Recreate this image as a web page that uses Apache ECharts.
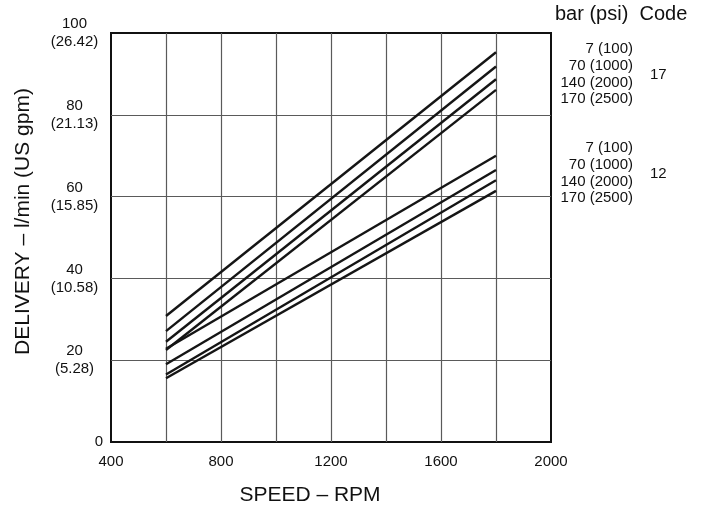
<!DOCTYPE html>
<html>
<head>
<meta charset="utf-8">
<script src="https://cdn.jsdelivr.net/npm/echarts@6/dist/echarts.min.js"></script>
<style>html,body{margin:0;padding:0;background:#fff}#c{width:711px;height:511px}</style>
</head>
<body>
<div id="c"></div>
<script>
// Speed (RPM) at the two ends of each line
var speeds = [600, 1800];
// Code 17 delivery (l/min)
var c17_7 = [30.8, 95.3];
var c17_70 = [27.1, 91.8];
var c17_140 = [24.5, 88.7];
var c17_170 = [22.5, 86.1];
// Code 12 delivery (l/min)
var c12_7 = [22.8, 70.0];
var c12_70 = [19.0, 66.5];
var c12_140 = [16.5, 64.0];
var c12_170 = [15.6, 61.4];
// tick labels
var yTicks = [0, 20, 40, 60, 80, 100];
var gpmTicks = ['', '5.28', '10.58', '15.85', '21.13', '26.42'];
var pressureLabels = ['7 (100)', '70 (1000)', '140 (2000)', '170 (2500)'];
var codes = ['17', '12'];

var FONT = 'Liberation Sans, Arial, Helvetica, sans-serif';
function pts(v) { return speeds.map(function (s, i) { return [s, v[i]]; }); }
var allSeries = [c17_7, c17_70, c17_140, c17_170, c12_7, c12_70, c12_140, c12_170];

var graphics = [];
graphics.push({ type: 'text', left: 555, top: 4, style: { text: 'bar (psi)  Code', font: '20px ' + FONT, fill: '#111' } });
var groupTops = [49, 148];
groupTops.forEach(function (t, g) {
  pressureLabels.forEach(function (lab, i) {
    graphics.push({ type: 'text', x: 633, y: t + i * 16.7, style: { text: lab, font: '15px ' + FONT, fill: '#111', align: 'right', verticalAlign: 'middle' } });
  });
  graphics.push({ type: 'text', x: 650, y: t + 25.5, style: { text: codes[g], font: '15px ' + FONT, fill: '#111', align: 'left', verticalAlign: 'middle' } });
});

var chart = echarts.init(document.getElementById('c'));
chart.setOption({
  animation: false,
  backgroundColor: '#fff',
  grid: { left: 111, right: 160, top: 33, bottom: 68, show: true, borderColor: '#111', borderWidth: 2, backgroundColor: 'transparent' },
  xAxis: {
    type: 'value', min: 400, max: 2000, interval: 200,
    axisLine: { show: false }, axisTick: { show: false },
    splitLine: { show: true, showMinLine: false, showMaxLine: false, lineStyle: { color: '#5a5a5a', width: 1.2 } },
    axisLabel: { margin: 12, color: '#111', fontSize: 15, fontFamily: FONT, showMinLabel: true, showMaxLabel: true,
      formatter: function (v) { return v % 400 === 0 ? String(v) : ''; } },
    name: 'SPEED – RPM', nameLocation: 'middle', nameGap: 43,
    nameTextStyle: { color: '#111', fontSize: 21, fontFamily: FONT, padding: [0, 42, 0, 0] }
  },
  yAxis: {
    type: 'value', min: 0, max: 100, interval: 20,
    axisLine: { show: false }, axisTick: { show: false },
    splitLine: { show: true, showMinLine: false, showMaxLine: false, lineStyle: { color: '#5a5a5a', width: 1.2 } },
    axisLabel: { margin: 8, color: '#111', fontFamily: FONT, fontSize: 15,
      formatter: function (v) {
        var i = yTicks.indexOf(v);
        if (v === 0) return '{z|0}';
        return '{a|' + v + '}\n{a|(' + gpmTicks[i] + ')}';
      },
      rich: {
        a: { width: 57, align: 'center', fontSize: 15, lineHeight: 18, color: '#111', fontFamily: FONT },
        z: { width: 57, align: 'right', fontSize: 15, color: '#111', fontFamily: FONT }
      }
    },
    name: 'DELIVERY – l/min (US gpm)', nameLocation: 'middle', nameGap: 77, nameRotate: 90,
    nameTextStyle: { color: '#111', fontSize: 21, fontFamily: FONT, padding: [0, 0, 0, 32] }
  },
  series: allSeries.map(function (s) {
    return { type: 'line', data: pts(s), symbol: 'none', silent: true,
      lineStyle: { color: '#151515', width: 2.4 } };
  }),
  graphic: graphics
});
</script>
</body>
</html>
